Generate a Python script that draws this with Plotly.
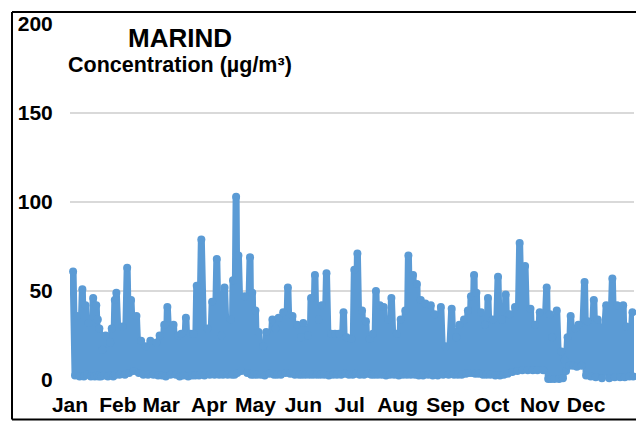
import plotly.graph_objects as go

month_labels = ["Jan", "Feb", "Mar", "Apr", "May", "Jun", "Jul", "Aug", "Sep", "Oct", "Nov", "Dec"]
month_start_days = [0, 31, 59, 90, 120, 151, 181, 212, 243, 273, 304, 334]
y_ticks = [0, 50, 100, 150, 200]

peak_days = [
    2, 4.5, 8, 10, 12, 15, 17, 18, 19, 21,
    23, 26, 27, 29, 30, 34, 37, 39.5, 43, 46,
    49, 52, 56, 58, 61, 63, 67, 70, 72, 75,
    78, 80, 82, 85, 89, 92, 95, 98, 100, 104,
    105.5, 107.5, 109, 113, 116.5, 118, 120, 122, 125, 127,
    131, 133, 135, 138, 141, 144, 147, 149.5, 151, 154,
    156, 158.5, 161, 163, 166, 169, 171.5, 174, 177, 179,
    182, 184, 186, 189, 191.5, 194, 196, 198, 200.5, 203,
    206, 208, 211.5, 214, 217, 219, 222, 224.5, 227, 230,
    233.5, 236, 240, 243, 247, 250, 252, 255, 257.5, 259.5,
    261.5, 263, 266, 268.5, 270.5, 273.5, 277, 279.5, 282, 284.5,
    288, 291, 294.5, 298, 301, 304, 308.5, 310.5, 312, 315,
    318, 320, 322, 324, 327, 329, 333, 335, 339, 341.5,
    347, 351, 354, 358, 360, 364,
]
peak_values = [
    61, 36, 51, 42, 32, 46, 42, 34, 29, 17,
    25, 21, 29, 45, 49, 30, 63, 45, 36, 22,
    19, 22, 21, 25, 31, 41, 31, 25, 26, 35,
    26, 26, 53, 79, 29, 44, 68, 25, 52, 34,
    56, 103, 70, 47, 69, 49, 39, 27, 19, 27,
    34, 29, 35, 38, 52, 36, 31, 24, 32, 25,
    46, 59, 34, 42, 60, 26, 26, 26, 38, 24,
    23, 62, 71, 39, 33, 23, 26, 50, 42, 41,
    34, 46, 26, 34, 39, 70, 59, 54, 45, 43,
    42, 37, 41, 19, 40, 24, 31, 34, 39, 47,
    59, 49, 38, 31, 46, 34, 58, 34, 48, 37,
    41, 77, 64, 40, 31, 38, 52, 37, 24, 39,
    16, 11, 24, 36, 29, 31, 55, 33, 45, 34,
    42, 57, 42, 42, 30, 38,
]
low_values = [
    2.5, 2, 2, 3, 2, 2, 2.5, 2, 2, 2.5,
    2, 2.5, 2, 3, 3, 3, 4, 5, 4, 3,
    3, 3, 2.5, 2.5, 2, 3, 3, 2, 2.5, 2,
    2.5, 2.5, 2.5, 2.5, 3, 3, 3, 3, 3, 3,
    3, 4, 5, 4, 3, 3, 3, 3, 2.5, 3.5,
    3, 3, 3, 4, 3.5, 3, 3, 3, 3, 3,
    3, 3, 3, 3, 2.5, 3, 3, 3, 3.5, 3,
    3, 3.5, 3, 3, 3.5, 3, 3, 3, 3, 2.5,
    3, 3, 2.5, 3, 3, 3, 3, 2.5, 2.5, 3,
    2.5, 2.5, 3, 3, 3, 3, 3, 3.5, 4, 4,
    3.5, 3.5, 3, 3, 3, 2.5, 2.5, 3, 3.5, 4.5,
    5, 5.5, 5.5, 5.5, 5.5, 5.5, 0.5, 0.5, 0.5, 0.5,
    1, 5, 8, 8, 7.5, 8, 2.5, 2, 1.5, 1,
    1, 1.5, 1.5, 1.5, 2, 2,
]

xs, ys = [], []
for i, (d, p, lo) in enumerate(zip(peak_days, peak_values, low_values)):
    xs.append(d)
    ys.append(p)
    next_day = peak_days[i + 1] if i + 1 < len(peak_days) else d + 1
    xs.append((d + next_day) / 2)
    ys.append(lo)

fig = go.Figure(go.Scatter(
    x=xs, y=ys, mode="lines+markers",
    line=dict(color="#5b9bd5", width=7),
    marker=dict(color="#5b9bd5", size=8, line=dict(width=0)),
    cliponaxis=False, hoverinfo="skip",
))

L, T, R, B = 70, 24, 634, 380
W, H = 636, 421
BOLD = "Liberation Sans"


def fx(p):
    return (p - L) / (R - L)


def fy(p):
    return (B - p) / (B - T)


frame = dict(color="black", width=2)
shapes = [
    dict(type="line", xref="paper", yref="paper", x0=fx(12), x1=fx(12), y0=fy(12), y1=fy(419.5), line=frame),
    dict(type="line", xref="paper", yref="paper", x0=fx(12), x1=fx(636), y0=fy(12), y1=fy(12), line=frame),
    dict(type="line", xref="paper", yref="paper", x0=fx(12), x1=fx(636), y0=fy(419.5), y1=fy(419.5), line=frame),
]
annotations = [
    dict(text="<b>MARIND</b>", xref="paper", yref="paper", x=fx(180), y=fy(38), xanchor="center", yanchor="middle",
         showarrow=False, font=dict(family=BOLD, size=26, color="black")),
    dict(text="<b>Concentration (µg/m³)</b>", xref="paper", yref="paper", x=fx(180), y=fy(65), xanchor="center",
         yanchor="middle", showarrow=False, font=dict(family=BOLD, size=21.5, color="black")),
]

fig.update_layout(
    width=W, height=H, autosize=False,
    margin=dict(l=L, r=W - R, t=T, b=H - B, autoexpand=False),
    paper_bgcolor="white", plot_bgcolor="white",
    showlegend=False, shapes=shapes, annotations=annotations,
    font=dict(family=BOLD, size=21, color="black"),
    xaxis=dict(
        range=[0, 365], tickmode="array", tickvals=month_start_days, ticktext=[f"<b>{m}</b>" for m in month_labels],
        showgrid=False, zeroline=False, showline=False, ticks="outside", ticklen=6, tickcolor="rgba(0,0,0,0)",
        automargin=False,
    ),
    yaxis=dict(
        range=[0, 200], tickmode="array", tickvals=y_ticks, ticktext=[f"<b>{v}</b>" for v in y_ticks],
        showgrid=True, gridcolor="#d9d9d9", gridwidth=1.5, zeroline=False, showline=False,
        ticks="outside", ticklen=12, tickcolor="rgba(0,0,0,0)", automargin=False,
    ),
)

fig.write_html(
    "out.html",
    config={"displayModeBar": False},
    post_script="document.body.style.margin='0';document.documentElement.style.overflow='hidden';",
)
